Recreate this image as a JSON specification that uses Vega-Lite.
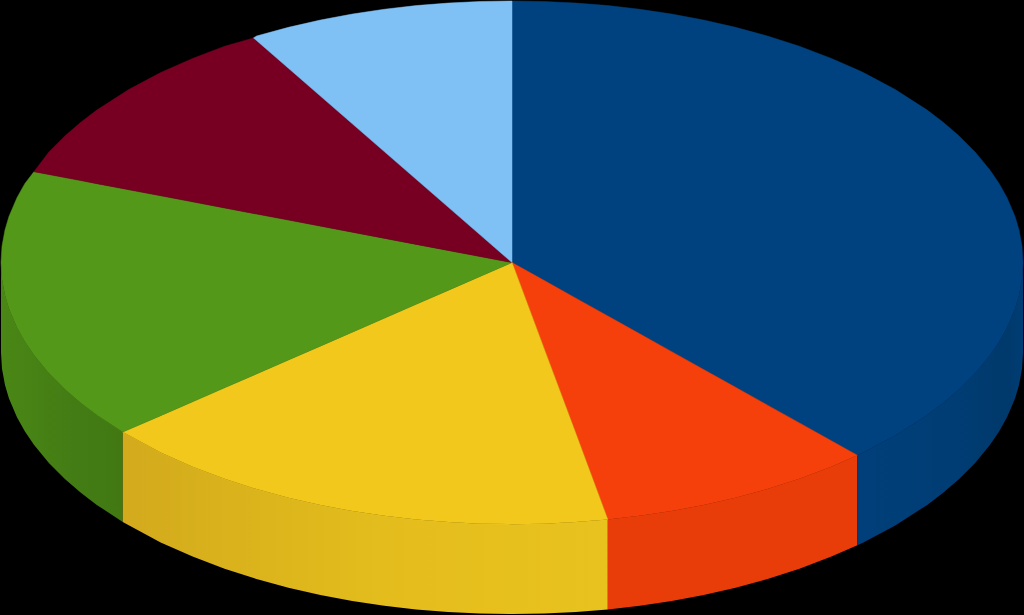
{
  "$schema": "https://vega.github.io/schema/vega-lite/v6.json",
  "width": 1024,
  "height": 615,
  "padding": 0,
  "autosize": {"type": "fit", "contains": "padding"},
  "background": "#000000",
  "config": {"view": {"stroke": null}},
  "datasets": {
    "side": [
      {"slice":"green","x":0,"y":262,"y2":352},{"slice":"green","x":1,"y":278.4,"y2":368.4},{"slice":"green","x":4,"y":294.7,"y2":384.7},{"slice":"green","x":8,"y":308.2,"y2":398.2},{"slice":"green","x":16,"y":327,"y2":417},{"slice":"green","x":24,"y":341.3,"y2":431.3},{"slice":"green","x":33,"y":354.5,"y2":444.5},{"slice":"green","x":48,"y":372.8,"y2":462.8},{"slice":"green","x":64,"y":388.8,"y2":478.8},{"slice":"green","x":80,"y":402.6,"y2":492.6},{"slice":"green","x":96,"y":414.7,"y2":504.7},{"slice":"green","x":122,"y":431.8,"y2":521.8},
      {"slice":"yellow","x":122,"y":431.8,"y2":521.8},{"slice":"yellow","x":160,"y":452.3,"y2":542.3},{"slice":"yellow","x":192,"y":466.5,"y2":556.5},{"slice":"yellow","x":224,"y":478.6,"y2":568.6},{"slice":"yellow","x":256,"y":488.9,"y2":578.9},{"slice":"yellow","x":288,"y":497.6,"y2":587.6},{"slice":"yellow","x":320,"y":504.9,"y2":594.9},{"slice":"yellow","x":352,"y":510.9,"y2":600.9},{"slice":"yellow","x":384,"y":515.7,"y2":605.7},{"slice":"yellow","x":416,"y":519.4,"y2":609.4},{"slice":"yellow","x":448,"y":521.9,"y2":611.9},{"slice":"yellow","x":480,"y":523.5,"y2":613.5},{"slice":"yellow","x":512,"y":524,"y2":614},{"slice":"yellow","x":544,"y":523.5,"y2":613.5},{"slice":"yellow","x":576,"y":521.9,"y2":611.9},{"slice":"yellow","x":608,"y":519.4,"y2":609.4},
      {"slice":"orange","x":608,"y":519.4,"y2":609.4},{"slice":"orange","x":640,"y":515.7,"y2":605.7},{"slice":"orange","x":672,"y":510.9,"y2":600.9},{"slice":"orange","x":704,"y":504.9,"y2":594.9},{"slice":"orange","x":736,"y":497.6,"y2":587.6},{"slice":"orange","x":768,"y":488.9,"y2":578.9},{"slice":"orange","x":800,"y":478.6,"y2":568.6},{"slice":"orange","x":832,"y":466.5,"y2":556.5},{"slice":"orange","x":858,"y":455.1,"y2":545.1},
      {"slice":"blue","x":858,"y":455.1,"y2":545.1},{"slice":"blue","x":864,"y":452.3,"y2":542.3},{"slice":"blue","x":896,"y":435.3,"y2":525.3},{"slice":"blue","x":928,"y":414.7,"y2":504.7},{"slice":"blue","x":944,"y":402.6,"y2":492.6},{"slice":"blue","x":960,"y":388.8,"y2":478.8},{"slice":"blue","x":976,"y":372.8,"y2":462.8},{"slice":"blue","x":991,"y":354.5,"y2":444.5},{"slice":"blue","x":1000,"y":341.3,"y2":431.3},{"slice":"blue","x":1008,"y":327,"y2":417},{"slice":"blue","x":1016,"y":308.2,"y2":398.2},{"slice":"blue","x":1020,"y":294.7,"y2":384.7},{"slice":"blue","x":1023,"y":278.4,"y2":368.4},{"slice":"blue","x":1024,"y":262,"y2":352}
    ],
    "top": [
      {"slice":"blue","x":512,"y":0,"y2":262},{"slice":"blue","x":544,"y":0.5,"y2":279.8},{"slice":"blue","x":576,"y":2.1,"y2":297.7},{"slice":"blue","x":608,"y":4.6,"y2":315.5},{"slice":"blue","x":640,"y":8.3,"y2":333.4},{"slice":"blue","x":672,"y":13.1,"y2":351.2},{"slice":"blue","x":704,"y":19.1,"y2":369.1},{"slice":"blue","x":736,"y":26.4,"y2":386.9},{"slice":"blue","x":768,"y":35.1,"y2":404.8},{"slice":"blue","x":800,"y":45.4,"y2":422.6},{"slice":"blue","x":832,"y":57.5,"y2":440.5},{"slice":"blue","x":858,"y":68.9,"y2":455},{"slice":"blue","x":864,"y":71.7,"y2":452.3},{"slice":"blue","x":896,"y":88.7,"y2":435.3},{"slice":"blue","x":928,"y":109.3,"y2":414.7},{"slice":"blue","x":944,"y":121.4,"y2":402.6},{"slice":"blue","x":960,"y":135.2,"y2":388.8},{"slice":"blue","x":976,"y":151.2,"y2":372.8},{"slice":"blue","x":991,"y":169.5,"y2":354.5},{"slice":"blue","x":1000,"y":182.7,"y2":341.3},{"slice":"blue","x":1008,"y":197,"y2":327},{"slice":"blue","x":1016,"y":215.8,"y2":308.2},{"slice":"blue","x":1020,"y":229.3,"y2":294.7},{"slice":"blue","x":1023,"y":245.6,"y2":278.4},{"slice":"blue","x":1024,"y":262,"y2":262},
      {"slice":"orange","x":512,"y":262,"y2":262},{"slice":"orange","x":544,"y":279.8,"y2":347.7},{"slice":"orange","x":576,"y":297.7,"y2":433.3},{"slice":"orange","x":608,"y":315.5,"y2":519.4},{"slice":"orange","x":640,"y":333.4,"y2":515.7},{"slice":"orange","x":672,"y":351.2,"y2":510.9},{"slice":"orange","x":704,"y":369.1,"y2":504.9},{"slice":"orange","x":736,"y":386.9,"y2":497.6},{"slice":"orange","x":768,"y":404.8,"y2":488.9},{"slice":"orange","x":800,"y":422.6,"y2":478.6},{"slice":"orange","x":832,"y":440.5,"y2":466.5},{"slice":"orange","x":858,"y":455,"y2":455},
      {"slice":"yellow","x":122,"y":431.8,"y2":431.8},{"slice":"yellow","x":160,"y":415.4,"y2":452.3},{"slice":"yellow","x":192,"y":401.5,"y2":466.5},{"slice":"yellow","x":224,"y":387.5,"y2":478.6},{"slice":"yellow","x":256,"y":373.6,"y2":488.9},{"slice":"yellow","x":288,"y":359.6,"y2":497.6},{"slice":"yellow","x":320,"y":345.7,"y2":504.9},{"slice":"yellow","x":352,"y":331.7,"y2":510.9},{"slice":"yellow","x":384,"y":317.8,"y2":515.7},{"slice":"yellow","x":416,"y":303.8,"y2":519.4},{"slice":"yellow","x":448,"y":289.9,"y2":521.9},{"slice":"yellow","x":480,"y":276,"y2":523.5},{"slice":"yellow","x":512,"y":262,"y2":524},{"slice":"yellow","x":544,"y":347.7,"y2":523.5},{"slice":"yellow","x":576,"y":433.3,"y2":521.9},{"slice":"yellow","x":608,"y":519.4,"y2":519.4},
      {"slice":"green","x":0,"y":262,"y2":262},{"slice":"green","x":1,"y":245.6,"y2":278.4},{"slice":"green","x":4,"y":229.3,"y2":294.7},{"slice":"green","x":8,"y":215.8,"y2":308.2},{"slice":"green","x":16,"y":197,"y2":327},{"slice":"green","x":24,"y":182.7,"y2":341.3},{"slice":"green","x":33,"y":171,"y2":354.5},{"slice":"green","x":48,"y":173.8,"y2":372.8},{"slice":"green","x":64,"y":176.9,"y2":388.8},{"slice":"green","x":80,"y":179.9,"y2":402.6},{"slice":"green","x":96,"y":183,"y2":414.7},{"slice":"green","x":122,"y":187.9,"y2":431.8},{"slice":"green","x":160,"y":195.1,"y2":415.4},{"slice":"green","x":224,"y":207.3,"y2":387.5},{"slice":"green","x":288,"y":219.4,"y2":359.6},{"slice":"green","x":352,"y":231.6,"y2":331.7},{"slice":"green","x":416,"y":243.8,"y2":303.8},{"slice":"green","x":512,"y":262,"y2":262},
      {"slice":"maroon","x":33,"y":171,"y2":171},{"slice":"maroon","x":48,"y":151.2,"y2":173.8},{"slice":"maroon","x":64,"y":135.2,"y2":176.9},{"slice":"maroon","x":80,"y":121.4,"y2":179.9},{"slice":"maroon","x":96,"y":109.3,"y2":183},{"slice":"maroon","x":128,"y":88.7,"y2":189.1},{"slice":"maroon","x":160,"y":71.7,"y2":195.1},{"slice":"maroon","x":192,"y":57.5,"y2":201.2},{"slice":"maroon","x":224,"y":45.4,"y2":207.3},{"slice":"maroon","x":253,"y":37,"y2":212.8},{"slice":"maroon","x":288,"y":67.4,"y2":219.4},{"slice":"maroon","x":352,"y":123,"y2":231.6},{"slice":"maroon","x":416,"y":178.6,"y2":243.8},{"slice":"maroon","x":512,"y":262,"y2":262},
      {"slice":"sky","x":253,"y":37,"y2":37},{"slice":"sky","x":256,"y":35.1,"y2":39.6},{"slice":"sky","x":288,"y":26.4,"y2":67.4},{"slice":"sky","x":320,"y":19.1,"y2":95.2},{"slice":"sky","x":352,"y":13.1,"y2":123},{"slice":"sky","x":384,"y":8.3,"y2":150.8},{"slice":"sky","x":416,"y":4.6,"y2":178.6},{"slice":"sky","x":448,"y":2.1,"y2":206.4},{"slice":"sky","x":480,"y":0.5,"y2":234.2},{"slice":"sky","x":512,"y":0,"y2":262}
    ]
  },
  "encoding": {
    "x": {"field": "x", "type": "quantitative", "axis": null, "scale": {"domain": [0, 1024], "nice": false, "zero": false}},
    "y": {"field": "y", "type": "quantitative", "axis": null, "scale": {"domain": [0, 615], "nice": false, "zero": false, "reverse": true}},
    "y2": {"field": "y2"}
  },
  "layer": [
    {
      "data": {"name": "side"},
      "transform": [{"filter": "datum.slice == 'green'"}],
      "mark": {"type": "area", "color": {"gradient": "linear", "x1": 0, "y1": 0, "x2": 1, "y2": 0, "stops": [{"offset": 0, "color": "#4a8716"}, {"offset": 0.6, "color": "#437c14"}, {"offset": 1, "color": "#417812"}]}},
      "encoding": {}
    },
    {
      "data": {"name": "side"},
      "transform": [{"filter": "datum.slice == 'yellow'"}],
      "mark": {"type": "area", "color": {"gradient": "linear", "x1": 0, "y1": 0, "x2": 1, "y2": 0, "stops": [{"offset": 0, "color": "#d2aa1c"}, {"offset": 0.3, "color": "#dcb51c"}, {"offset": 0.6, "color": "#e5be1d"}, {"offset": 1, "color": "#e8c21d"}]}},
      "encoding": {}
    },
    {
      "data": {"name": "side"},
      "transform": [{"filter": "datum.slice == 'orange'"}],
      "mark": {"type": "area", "color": "#e83d09"},
      "encoding": {}
    },
    {
      "data": {"name": "side"},
      "transform": [{"filter": "datum.slice == 'blue'"}],
      "mark": {"type": "area", "color": {"gradient": "linear", "x1": 0, "y1": 0, "x2": 1, "y2": 0, "stops": [{"offset": 0, "color": "#003f7a"}, {"offset": 0.6, "color": "#003d74"}, {"offset": 0.9, "color": "#00396b"}, {"offset": 1, "color": "#003d74"}]}},
      "encoding": {}
    },
    {
      "data": {"name": "top"},
      "mark": {"type": "area", "strokeWidth": 0.5},
      "encoding": {
        "color": {
          "field": "slice",
          "type": "nominal",
          "legend": null,
          "scale": {"domain": ["blue", "orange", "yellow", "green", "maroon", "sky"], "range": ["#004280", "#f5400b", "#f3c81c", "#54981a", "#770022", "#7fc1f5"]}
        },
        "stroke": {
          "field": "slice",
          "type": "nominal",
          "legend": null,
          "scale": {"domain": ["blue", "orange", "yellow", "green", "maroon", "sky"], "range": ["#004280", "#f5400b", "#f3c81c", "#54981a", "#770022", "#7fc1f5"]}
        }
      }
    }
  ]
}
